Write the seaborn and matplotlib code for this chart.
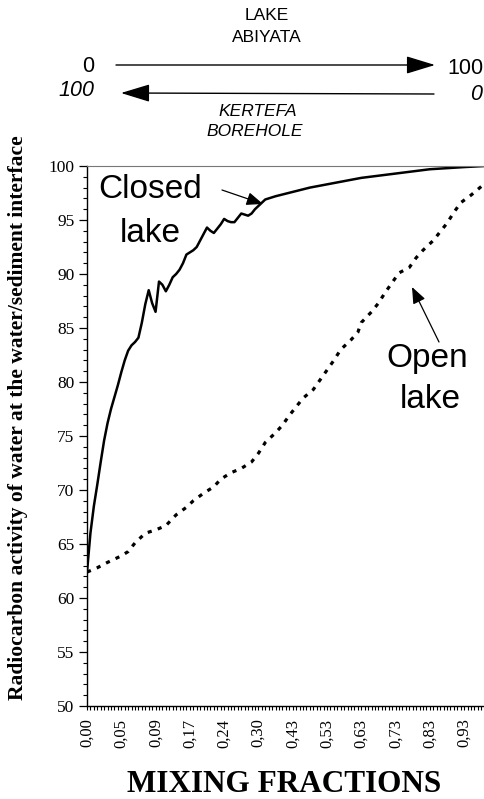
import matplotlib
matplotlib.use("Agg")
import matplotlib.pyplot as plt
from matplotlib.ticker import MultipleLocator, FixedLocator, FixedFormatter
import seaborn as sns
import pandas as pd

# ---- data (x = position on the mixing-fraction category axis) ----
tick_labels = ["0,00", "0,05", "0,09", "0,17", "0,24", "0,30",
               "0,43", "0,53", "0,63", "0,73", "0,83", "0,93"]
tick_positions = [0, 10, 20, 30, 40, 50, 60, 70, 80, 90, 100, 110]

closed_x = [0, 1, 2, 3, 4, 5, 6, 7, 8, 9, 10, 11, 12, 13, 14, 15, 16, 17, 18,
            19, 20, 21, 22, 23, 24, 25, 26, 27, 28, 29, 30, 31, 32, 33, 34, 35,
            36, 37, 38, 39, 40, 41, 42, 43, 44, 45, 46, 47, 48, 49, 50, 51, 52,
            55, 60, 65, 70, 75, 80, 85, 90, 95, 100, 105, 110, 116]
closed_y = [62.4, 66.0, 68.5, 70.5, 72.6, 74.6, 76.2, 77.5, 78.6, 79.7, 80.9,
            82.0, 82.9, 83.4, 83.7, 84.1, 85.5, 87.2, 88.5, 87.3, 86.5, 89.3,
            89.0, 88.4, 89.0, 89.7, 90.0, 90.4, 91.0, 91.8, 92.0, 92.2, 92.5,
            93.1, 93.7, 94.3, 94.0, 93.8, 94.2, 94.6, 95.1, 94.9, 94.8, 94.8,
            95.2, 95.6, 95.5, 95.4, 95.6, 96.0, 96.3, 96.6, 96.9,
            97.2, 97.6, 98.0, 98.3, 98.6, 98.9, 99.1, 99.3, 99.5, 99.7, 99.8,
            99.9, 100.0]

open_x = [0, 3, 6, 10, 12, 14, 17, 20, 23, 26, 29, 31, 34, 37, 39, 42, 45, 48,
          50, 52, 55, 57, 59, 61, 63, 66, 68, 70, 72, 74, 77, 79, 80, 83, 85,
          87, 89, 91, 94, 96, 98, 101, 103, 105, 107, 109, 112, 115, 116]
open_y = [62.4, 62.8, 63.3, 63.9, 64.3, 65.1, 66.0, 66.3, 66.7, 67.7, 68.4,
          69.0, 69.7, 70.3, 71.0, 71.6, 72.0, 72.6, 73.4, 74.4, 75.3, 76.0,
          76.9, 77.7, 78.5, 79.3, 80.2, 81.1, 82.0, 83.0, 83.9, 84.6, 85.5,
          86.5, 87.3, 88.3, 89.2, 90.1, 90.6, 91.5, 92.2, 93.1, 93.9, 94.7,
          95.7, 96.6, 97.3, 98.1, 98.5]

closed_df = pd.DataFrame({"x": closed_x, "y": closed_y})
open_df = pd.DataFrame({"x": open_x, "y": open_y})

sns.set_style("ticks")
plt.rcParams["font.family"] = ["Liberation Serif", "DejaVu Serif"]
plt.rcParams["text.color"] = "black"
plt.rcParams["axes.labelcolor"] = "black"
plt.rcParams["xtick.color"] = "black"
plt.rcParams["ytick.color"] = "black"

fig = plt.figure(figsize=(4.84, 7.99), dpi=100)
ax = fig.add_axes([87 / 484, 1 - 706 / 799, 1 - 87 / 484, (706 - 166) / 799])

sns.lineplot(data=closed_df, x="x", y="y", ax=ax, color="black", lw=1.8,
             sort=False)
sns.lineplot(data=open_df, x="x", y="y", ax=ax, color="black", lw=2.3,
             linestyle=(0, (1.3, 2.0)), sort=False)

ax.set_xlim(0, 115.8)
ax.set_ylim(50, 100)
ax.xaxis.set_major_locator(FixedLocator(tick_positions))
ax.xaxis.set_major_formatter(FixedFormatter(tick_labels))
ax.xaxis.set_minor_locator(MultipleLocator(1))
ax.yaxis.set_major_locator(MultipleLocator(5))
ax.yaxis.set_minor_locator(MultipleLocator(1))
ax.tick_params(axis="x", which="both", direction="out", length=3, width=0.8,
               labelsize=12, labelrotation=90, pad=6, colors="black")
ax.tick_params(axis="y", which="major", direction="out", length=6, width=0.9,
               labelsize=12.5, pad=3, colors="black")
ax.tick_params(axis="y", which="minor", direction="out", length=3, width=0.8)

ax.spines["right"].set_visible(False)
ax.spines["top"].set_visible(True)
ax.spines["top"].set_linestyle((0, (1, 1)))
ax.spines["top"].set_color("#777777")
ax.spines["top"].set_linewidth(0.8)
for s in ("left", "bottom"):
    ax.spines[s].set_color("black")
    ax.spines[s].set_linewidth(1.0)

ax.set_xlabel("MIXING FRACTIONS", fontsize=22.5, fontweight="bold",
              color="black")
ax.set_ylabel("Radiocarbon activity of water at the water/sediment interface",
              fontsize=15.5, fontweight="bold", color="black")
ax.xaxis.label.set_verticalalignment("center")
ax.yaxis.label.set_verticalalignment("center")
ax.yaxis.set_label_coords(18 / 484, 1 - 418 / 799, transform=fig.transFigure)
ax.xaxis.set_label_coords(284 / 484, 1 - 785 / 799, transform=fig.transFigure)

sans = ["Liberation Sans", "DejaVu Sans"]

def px(x, y):
    return (x / 484, 1 - y / 799)

# curve annotations
for (x, y, s) in [(150, 190, "Closed"), (150, 233, "lake"),
                  (427, 358, "Open"), (430, 400, "lake")]:
    fig.text(*px(x, y), s, family=sans, fontsize=24, ha="center",
             va="center", color="black")

arrow_kw = dict(arrowstyle="-|>,head_length=1.0,head_width=0.4", color="black",
                lw=0.9, shrinkA=0, shrinkB=0)
ax.annotate("", xy=px(263, 204), xycoords="figure fraction",
            xytext=px(222, 190), textcoords="figure fraction",
            arrowprops=arrow_kw)
ax.annotate("", xy=px(412, 287), xycoords="figure fraction",
            xytext=px(439, 342), textcoords="figure fraction",
            arrowprops=arrow_kw)

# top mixing legend
fig.text(*px(267, 15), "LAKE", family=sans, fontsize=12.5, ha="center",
         va="center", color="black")
fig.text(*px(267, 37), "ABIYATA", family=sans, fontsize=12.5, ha="center",
         va="center", color="black")
fig.text(*px(88, 66), "0", family=sans, fontsize=15.5, ha="center",
         va="center", color="black")
fig.text(*px(447, 68), "100", family=sans, fontsize=15.5, ha="left",
         va="center", color="black")
fig.text(*px(94, 90), "100", family=sans, fontsize=15.5, ha="right",
         va="center", style="italic", color="black")
fig.text(*px(476, 94), "0", family=sans, fontsize=15.5, ha="center",
         va="center", style="italic", color="black")
fig.text(*px(258, 111), "KERTEFA", family=sans, fontsize=12.5, ha="center",
         va="center", style="italic", color="black")
fig.text(*px(255, 131), "BOREHOLE", family=sans, fontsize=12.5, ha="center",
         va="center", style="italic", color="black")

big_arrow = dict(arrowstyle="-|>,head_length=1.8,head_width=0.55",
                 color="black", lw=1.0, shrinkA=0, shrinkB=0)
ax.annotate("", xy=px(435, 65), xycoords="figure fraction",
            xytext=px(116, 65), textcoords="figure fraction",
            arrowprops=big_arrow)
ax.annotate("", xy=px(121, 93), xycoords="figure fraction",
            xytext=px(434, 94), textcoords="figure fraction",
            arrowprops=big_arrow)

fig.savefig("out.png", dpi=100)
